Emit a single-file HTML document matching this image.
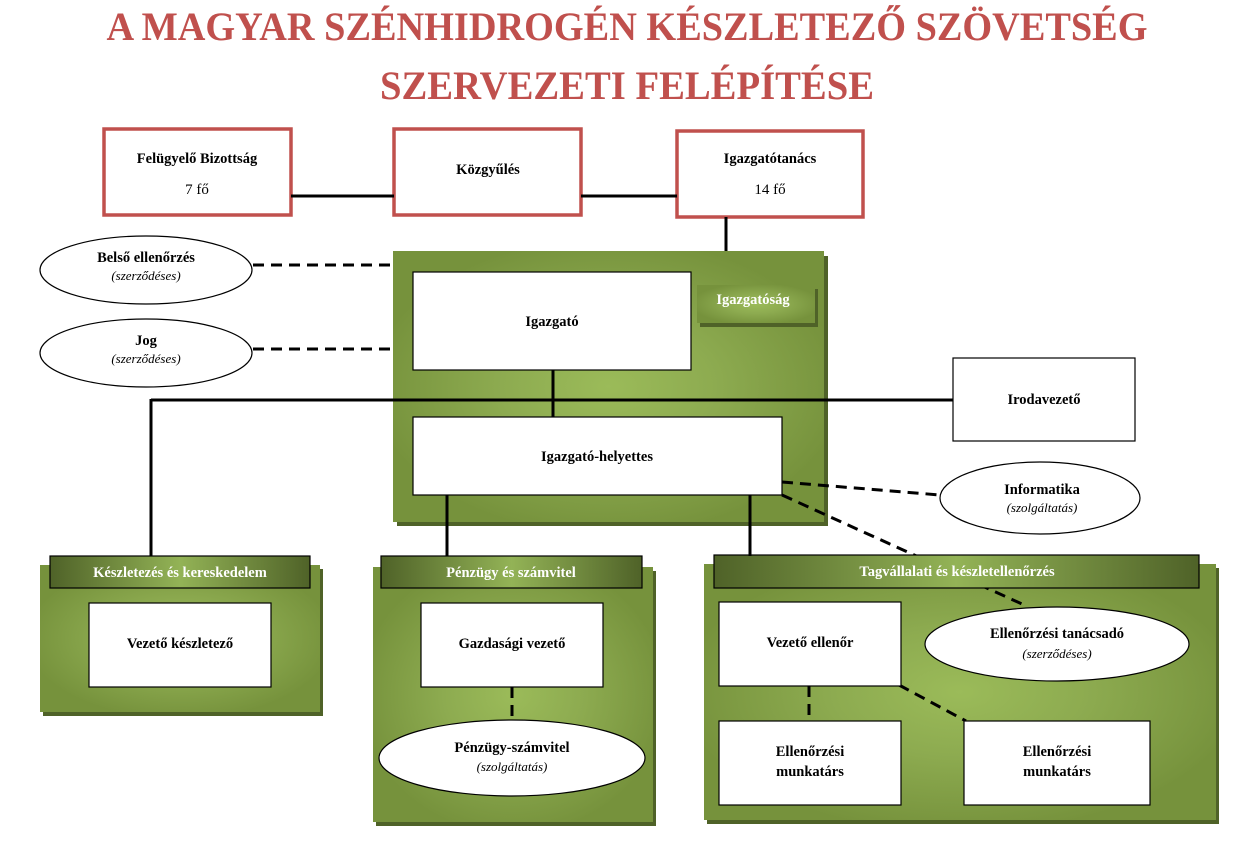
<!DOCTYPE html>
<html><head><meta charset="utf-8"><style>
html,body{margin:0;padding:0;background:#fff;width:1255px;height:858px;overflow:hidden}
svg text{font-family:"Liberation Serif",serif}
.b{font-weight:bold;font-size:14.5px;fill:#000}
.i{font-style:italic;font-size:13px;fill:#000}
.w{font-weight:bold;font-size:14.5px;fill:#fff}
</style></head><body>
<svg width="1255" height="858" xmlns="http://www.w3.org/2000/svg">
<defs>
<radialGradient id="g" cx="50%" cy="50%" r="55%">
<stop offset="0" stop-color="#9bbb59"/><stop offset="0.45" stop-color="#8dab50"/><stop offset="1" stop-color="#76923c"/></radialGradient>
<linearGradient id="h" x1="0" x2="1" y1="0" y2="0">
<stop offset="0" stop-color="#4f6228"/><stop offset="0.5" stop-color="#93b356"/><stop offset="1" stop-color="#4f6228"/></linearGradient>
</defs>
<text x="627" y="40" text-anchor="middle" font-size="40" font-weight="bold" fill="#c0504d" textLength="1041" lengthAdjust="spacingAndGlyphs">A MAGYAR SZÉNHIDROGÉN KÉSZLETEZŐ SZÖVETSÉG</text>
<text x="627" y="99" text-anchor="middle" font-size="40" font-weight="bold" fill="#c0504d" textLength="494" lengthAdjust="spacingAndGlyphs">SZERVEZETI FELÉPÍTÉSE</text>

<g fill="#fff" stroke="#c0504d" stroke-width="3.5">
<rect x="104" y="129" width="187" height="86"/>
<rect x="394" y="129" width="187" height="86"/>
<rect x="677" y="131" width="186" height="86"/>
</g>
<text x="197" y="163" text-anchor="middle" class="b">Felügyelő Bizottság</text>
<text x="197" y="194" text-anchor="middle" font-size="15">7 fő</text>
<text x="488" y="174" text-anchor="middle" class="b">Közgyűlés</text>
<text x="770" y="163" text-anchor="middle" class="b">Igazgatótanács</text>
<text x="770" y="194" text-anchor="middle" font-size="15">14 fő</text>
<g stroke="#000" stroke-width="3" fill="none">
<line x1="291" y1="196" x2="394" y2="196"/>
<line x1="581" y1="196" x2="677" y2="196"/>
<line x1="726" y1="217" x2="726" y2="253"/>
</g>

<rect x="397" y="256" width="431" height="270" fill="#4f6228"/>
<rect x="393" y="251" width="431" height="271" fill="url(#g)"/>
<rect x="700" y="289" width="118" height="38" fill="#4f6228"/>
<rect x="697" y="285" width="118" height="38" fill="url(#g)"/>
<text x="753" y="304" text-anchor="middle" class="w">Igazgatóság</text>

<rect x="43" y="569" width="280" height="147" fill="#4f6228"/>
<rect x="40" y="565" width="280" height="147" fill="url(#g)"/>
<rect x="376" y="571" width="280" height="255" fill="#4f6228"/>
<rect x="373" y="567" width="280" height="255" fill="url(#g)"/>
<rect x="707" y="568" width="512" height="256" fill="#4f6228"/>
<rect x="704" y="564" width="512" height="256" fill="url(#g)"/>

<g stroke="#000" stroke-width="3" stroke-dasharray="11,7" fill="none">
<line x1="782" y1="495" x2="1022" y2="604"/>
</g>

<g stroke="#000" stroke-width="1.2">
<rect x="50" y="556" width="260" height="32" fill="url(#h)"/>
<rect x="381" y="556" width="261" height="32" fill="url(#h)"/>
<rect x="714" y="555" width="485" height="33" fill="url(#h)"/>
</g>
<text x="180" y="577" text-anchor="middle" class="w">Készletezés és kereskedelem</text>
<text x="511" y="577" text-anchor="middle" class="w">Pénzügy és számvitel</text>
<text x="957" y="576" text-anchor="middle" class="w">Tagvállalati és készletellenőrzés</text>

<g stroke="#000" stroke-width="3" fill="none">
<line x1="151" y1="400" x2="953" y2="400"/>
<line x1="151" y1="399" x2="151" y2="556"/>
<line x1="553" y1="370" x2="553" y2="417"/>
<line x1="447" y1="495" x2="447" y2="556"/>
<line x1="750" y1="495" x2="750" y2="556"/>
</g>
<g stroke="#000" stroke-width="3" stroke-dasharray="11,7" fill="none">
<line x1="253" y1="265" x2="393" y2="265"/>
<line x1="253" y1="349" x2="393" y2="349"/>
<line x1="782" y1="482" x2="940" y2="495"/>
<line x1="512" y1="687" x2="512" y2="720"/>
<line x1="809" y1="686" x2="809" y2="721"/>
<line x1="899" y1="685" x2="966" y2="721"/>
</g>

<g fill="#fff" stroke="#000" stroke-width="1.2">
<rect x="413" y="272" width="278" height="98"/>
<rect x="413" y="417" width="369" height="78"/>
<rect x="953" y="358" width="182" height="83"/>
<rect x="89" y="603" width="182" height="84"/>
<rect x="421" y="603" width="182" height="84"/>
<rect x="719" y="602" width="182" height="84"/>
<rect x="719" y="721" width="182" height="84"/>
<rect x="964" y="721" width="186" height="84"/>
<ellipse cx="146" cy="270" rx="106" ry="34"/>
<ellipse cx="146" cy="353" rx="106" ry="34"/>
<ellipse cx="1040" cy="498" rx="100" ry="36"/>
<ellipse cx="512" cy="758" rx="133" ry="38"/>
<ellipse cx="1057" cy="644" rx="132" ry="37"/>
</g>

<text x="552" y="326" text-anchor="middle" class="b">Igazgató</text>
<text x="597" y="461" text-anchor="middle" class="b">Igazgató-helyettes</text>
<text x="1044" y="404" text-anchor="middle" class="b">Irodavezető</text>
<text x="180" y="648" text-anchor="middle" class="b">Vezető készletező</text>
<text x="512" y="648" text-anchor="middle" class="b">Gazdasági vezető</text>
<text x="810" y="647" text-anchor="middle" class="b">Vezető ellenőr</text>
<text x="810" y="756" text-anchor="middle" class="b">Ellenőrzési</text>
<text x="810" y="776" text-anchor="middle" class="b">munkatárs</text>
<text x="1057" y="756" text-anchor="middle" class="b">Ellenőrzési</text>
<text x="1057" y="776" text-anchor="middle" class="b">munkatárs</text>

<text x="146" y="262" text-anchor="middle" class="b">Belső ellenőrzés</text>
<text x="146" y="280" text-anchor="middle" class="i">(szerződéses)</text>
<text x="146" y="345" text-anchor="middle" class="b">Jog</text>
<text x="146" y="363" text-anchor="middle" class="i">(szerződéses)</text>
<text x="1042" y="494" text-anchor="middle" class="b">Informatika</text>
<text x="1042" y="512" text-anchor="middle" class="i">(szolgáltatás)</text>
<text x="512" y="752" text-anchor="middle" class="b">Pénzügy-számvitel</text>
<text x="512" y="771" text-anchor="middle" class="i">(szolgáltatás)</text>
<text x="1057" y="638" text-anchor="middle" class="b">Ellenőrzési tanácsadó</text>
<text x="1057" y="658" text-anchor="middle" class="i">(szerződéses)</text>
</svg>
</body></html>
